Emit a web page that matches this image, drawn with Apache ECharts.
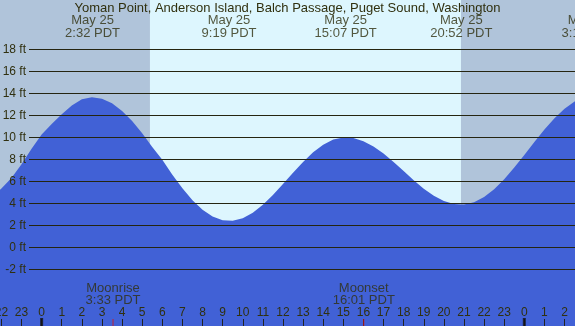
<!DOCTYPE html>
<html>
<head>
<meta charset="utf-8">
<script src="https://cdn.jsdelivr.net/npm/echarts@6/dist/echarts.min.js"></script>
<style>
html,body{margin:0;padding:0;background:#fff;}
#c{width:575px;height:326px;}
</style>
</head>
<body>
<div id="c"></div>
<script>
// ---- data (hours relative to May 25 00:00 PDT) ----
const title = 'Yoman Point, Anderson Island, Balch Passage, Puget Sound, Washington';
const hours = [-2.5,-2,-1.5,-1,-0.5,0,0.5,1,1.5,2,2.5,3,3.5,4,4.5,5,5.5,6,6.5,7,7.5,8,8.5,9,9.5,10,10.5,11,11.5,12,12.5,13,13.5,14,14.5,15,15.5,16,16.5,17,17.5,18,18.5,19,19.5,20,20.5,21,21.5,22,22.5,23,23.5,24,24.5,25,25.5,26,26.5,27];
const heights = [4.5,5.35,6.3,7.55,8.95,10.25,11.2,12.1,12.9,13.45,13.64,13.51,13.09,12.39,11.47,10.36,9.12,7.95,6.6,5.36,4.28,3.42,2.8,2.46,2.42,2.65,3.15,3.87,4.76,5.75,6.78,7.76,8.63,9.32,9.79,9.99,9.93,9.65,9.17,8.52,7.75,6.93,6.1,5.33,4.69,4.21,3.93,3.88,4.09,4.57,5.28,6.19,7.25,8.4,9.57,10.7,11.73,12.6,13.25,13.66];
const ftTicks = [-2,0,2,4,6,8,10,12,14,16,18];
const extremeTimes = [2.533, 9.317, 15.117, 20.867, 27.217];
const extremeLabels = ['May 25\n2:32 PDT','May 25\n9:19 PDT','May 25\n15:07 PDT','May 25\n20:52 PDT','May 26\n3:13 PDT'];
const sunrise = 5.385, sunset = 20.85;
const midnights = [0, 24];
const moonTimes = [3.55, 16.017];
const moonLabels = ['Moonrise\n3:33 PDT','Moonset\n16:01 PDT'];

// ---- view ----
const X_MIN = -2.07, X_MAX = 26.52;
const Y_MIN = -7.155, Y_MAX = 22.48;
const TXT = '#30300f';
const FONT = 'Liberation Sans, Arial, sans-serif';
const W = 575;
const pxPerHr = W / (X_MAX - X_MIN);
const tickLeft = (-2 - X_MIN) * pxPerHr;
const tickRight = W - (26 - X_MIN) * pxPerHr;

const chart = echarts.init(document.getElementById('c'), null, {renderer:'canvas'});
chart.setOption({
  animation:false,
  title:{text:title,left:'center',top:2,padding:0,
    textStyle:{fontSize:13,fontWeight:'normal',color:TXT,fontFamily:FONT}},
  grid:[
    {left:0,right:0,top:0,bottom:0,show:true,backgroundColor:'#b0c4da',borderWidth:0,outerBoundsMode:'none',containLabel:false},
    {left:29,right:0,top:49.3,bottom:56.7,outerBoundsMode:'none',containLabel:false},
    {left:tickLeft,right:tickRight,top:0,bottom:0,outerBoundsMode:'none',containLabel:false}
  ],
  xAxis:[
    {gridIndex:0,type:'value',min:X_MIN,max:X_MAX,show:false},
    {gridIndex:1,type:'value',min:0,max:1,show:false},
    {gridIndex:2,type:'value',min:-2,max:26,interval:1,z:4,
      axisLine:{show:false},splitLine:{show:false},
      axisTick:{show:true,inside:true,length:7,lineStyle:{color:'#222',width:1}},
      axisLabel:{show:true,inside:true,margin:7,interval:0,hideOverlap:false,
        alignMinLabel:'center',alignMaxLabel:'center',
        showMinLabel:true,showMaxLabel:true,color:TXT,fontSize:12,fontFamily:FONT,
        formatter:v=>String(((v%24)+24)%24)}}
  ],
  yAxis:[
    {gridIndex:0,type:'value',min:Y_MIN,max:Y_MAX,show:false},
    {gridIndex:1,type:'value',min:ftTicks[0],max:ftTicks[ftTicks.length-1],interval:2,z:4,
      axisLine:{show:false},axisTick:{show:false},
      splitLine:{show:true,lineStyle:{color:'#252510',width:1}},
      axisLabel:{show:true,margin:3,color:TXT,fontSize:12,fontFamily:FONT,formatter:'{value} ft'}},
    {gridIndex:2,type:'value',min:0,max:1,show:false}
  ],
  series:[
    {type:'line',xAxisIndex:0,yAxisIndex:0,data:[],z:1,silent:true,
      markArea:{silent:true,itemStyle:{color:'#ddf6fe'},data:[[{xAxis:sunrise},{xAxis:sunset}]]}},
    {type:'line',xAxisIndex:0,yAxisIndex:0,z:2,smooth:false,showSymbol:false,silent:true,clip:true,
      data:hours.map((h,i)=>[h,heights[i]]),
      lineStyle:{width:0},
      areaStyle:{color:'#4161d6',opacity:1,origin:'start'}},
    {type:'scatter',xAxisIndex:2,yAxisIndex:2,z:5,silent:true,symbol:'rect',symbolSize:[3,8],symbolOffset:[0,-4],
      itemStyle:{color:'#111'},data:midnights.map(t=>[t,0])},
    {type:'scatter',xAxisIndex:2,yAxisIndex:2,z:5,silent:true,symbol:'rect',symbolSize:[1,7],symbolOffset:[0,-3.5],
      itemStyle:{color:'#e01010'},data:moonTimes.map(t=>[t,0])},
    {type:'scatter',xAxisIndex:2,yAxisIndex:2,z:6,silent:true,symbol:'circle',symbolSize:1,clip:false,
      itemStyle:{color:'rgba(0,0,0,0)'},
      data:moonTimes.map((t,i)=>({value:[t,0.097],name:moonLabels[i]})),
      label:{show:true,position:'inside',formatter:p=>p.name,color:TXT,fontSize:13,lineHeight:12,
        fontFamily:FONT,align:'center',verticalAlign:'middle'}},
    {type:'scatter',xAxisIndex:2,yAxisIndex:2,z:6,silent:true,symbol:'circle',symbolSize:1,clip:false,
      itemStyle:{color:'rgba(0,0,0,0)'},
      data:extremeTimes.map((t,i)=>({value:[t,0.918],name:extremeLabels[i]})),
      label:{show:true,position:'inside',formatter:p=>p.name,color:TXT,fontSize:13,lineHeight:12.5,
        fontFamily:FONT,align:'center',verticalAlign:'middle'}}
  ]
});
</script>
</body>
</html>
